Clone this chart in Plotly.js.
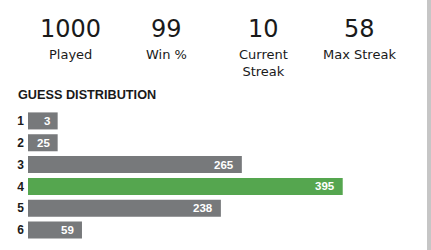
<!DOCTYPE html>
<html>
<head>
<meta charset="utf-8">
<script src="https://cdn.plot.ly/plotly-3.0.1.min.js"></script>
<style>
  html, body { margin: 0; padding: 0; background: #ffffff; }
  #wrap { width: 427px; height: 250px; border-right: 4px solid #c6c6c6; }
  #chart { width: 427px; height: 250px; }
</style>
</head>
<body>
<div id="wrap"><div id="chart"></div></div>
<script>
// ---- data ----
const guesses = ['1', '2', '3', '4', '5', '6'];
const counts = [3, 25, 265, 395, 238, 59];
const highlightGuess = '4';
const statValues = ['1000', '99', '10', '58'];
const statLabels = ['Played', 'Win %', 'Current<br>Streak', 'Max Streak'];
const chartTitle = 'GUESS DISTRIBUTION';

// ---- styling / geometry ----
const W = 427, H = 250;
const M = { l: 28, r: 4, t: 110, b: 9 };
const plotW = W - M.l - M.r, plotH = H - M.t - M.b;
const PX_PER_UNIT = 0.776;
const MIN_FRAC = 0.07;          // minimum bar width, fraction of max
const PAD_UNITS = 8.2 / PX_PER_UNIT; // bar right padding
const GRAY = '#77797b', GREEN = '#55a64f';
const statCentersPx = [70.5, 166.5, 263, 359];

const maxCount = Math.max(...counts);
const barLen = counts.map(c => Math.max(c, MIN_FRAC * maxCount) + PAD_UNITS);
const colors = guesses.map(g => g === highlightGuess ? GREEN : GRAY);

const px = x => (x - M.l) / plotW;
const py = y => 1 - (y - M.t) / plotH;

const trace = {
  type: 'bar',
  orientation: 'h',
  y: guesses,
  x: barLen,
  marker: { color: colors },
  hoverinfo: 'skip'
};

const annotations = [];
// value labels inside bars (category axis -> use category index)
counts.forEach((c, i) => {
  annotations.push({
    x: barLen[i], y: i, xref: 'x', yref: 'y',
    text: String(c), showarrow: false, xanchor: 'right', yanchor: 'middle',
    xshift: -6,
    font: { family: 'Liberation Sans, Arial, sans-serif', size: 11.5, color: '#ffffff', weight: 'bold' }
  });
});
// stats
statValues.forEach((v, i) => {
  annotations.push({
    x: px(statCentersPx[i]), y: py(28.5), xref: 'paper', yref: 'paper',
    text: v, showarrow: false, xanchor: 'center', yanchor: 'middle',
    font: { family: 'DejaVu Sans, sans-serif', size: 24, color: '#1a1a1a' }
  });
  annotations.push({
    x: px(statCentersPx[i]), y: py(45.5), xref: 'paper', yref: 'paper',
    text: statLabels[i], showarrow: false, xanchor: 'center', yanchor: 'top',
    font: { family: 'DejaVu Sans, sans-serif', size: 13, color: '#1a1a1a' }
  });
});
// section title
annotations.push({
  x: px(16), y: py(94.5), xref: 'paper', yref: 'paper',
  text: chartTitle, showarrow: false, xanchor: 'left', yanchor: 'middle',
  font: { family: 'Liberation Sans, Arial, sans-serif', size: 12.7, color: '#1a1a1a', weight: 'bold' }
});

const layout = {
  width: W, height: H,
  margin: M,
  paper_bgcolor: '#ffffff', plot_bgcolor: '#ffffff',
  showlegend: false,
  bargap: 0.22,
  xaxis: {
    range: [0, plotW / PX_PER_UNIT],
    showgrid: false, zeroline: false, showticklabels: false, showline: false, fixedrange: true
  },
  yaxis: {
    type: 'category', autorange: 'reversed',
    showgrid: false, zeroline: false, showline: false, ticks: '',
    ticklabelstandoff: 3,
    tickfont: { family: 'Liberation Sans, Arial, sans-serif', size: 12, color: '#1a1a1a', weight: 'bold' },
    fixedrange: true
  },
  annotations: annotations
};

Plotly.newPlot('chart', [trace], layout, { staticPlot: true, displayModeBar: false });
</script>
</body>
</html>
